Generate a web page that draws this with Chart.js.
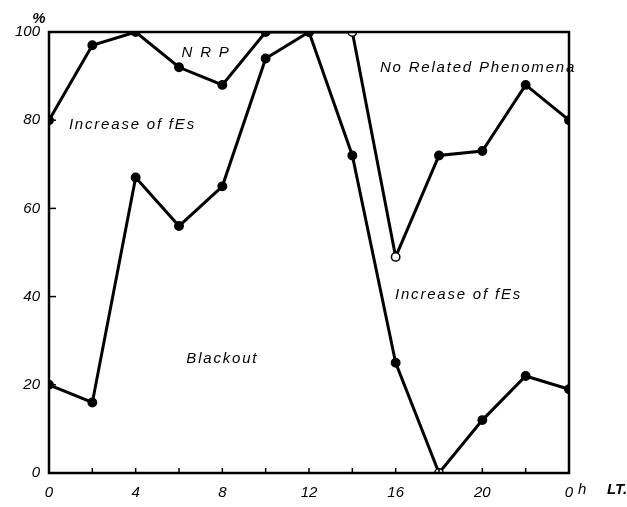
<!DOCTYPE html>
<html>
<head>
<meta charset="utf-8">
<script src="https://cdn.jsdelivr.net/npm/chart.js@4/dist/chart.umd.min.js"></script>
<style>
  html, body { margin: 0; background: #fff; }
</style>
</head>
<body>
<canvas id="chart" width="627" height="507"></canvas>
<script>
// local time (h), upper curve = NRP boundary, lower curve = blackout boundary
const hours = [0, 2, 4, 6, 8, 10, 12, 14, 16, 18, 20, 22, 24];
const nrpLine = [80, 97, 100, 92, 88, 100, 100, 100, 49, 72, 73, 88, 80];
const blackoutLine = [20, 16, 67, 56, 65, 94, 100, 72, 25, 0, 12, 22, 19];
const openNrp = [14, 16];
const openBlackout = [18];
const hourLabels = ['0', '4', '8', '12', '16', '20', '0'];
const regionNames = ['N R P', 'Increase of fEs', 'Blackout', 'No Related Phenomena', 'Increase of fEs'];
const regionAt = [[7.25, 95.2], [3.85, 78.9], [8.0, 26], [19.8, 91.8], [18.9, 40.4]];

const FONT = '"Liberation Sans", Arial, sans-serif';

const pts = vals => hours.map((h, i) => ({ x: h, y: vals[i] }));
const fills = open => hours.map(h => open.includes(h) ? '#fff' : '#000');

const frame = {
    id: 'frame',
    afterDatasetsDraw(chart) {
        const { ctx, chartArea: a, scales: { x, y } } = chart;
        ctx.save();
        ctx.strokeStyle = '#000';
        ctx.lineWidth = 2.5;
        ctx.strokeRect(a.left, a.top, a.right - a.left, a.bottom - a.top);
        // little inward ticks
        ctx.lineWidth = 1.5;
        hours.slice(1, -1).forEach(h => {
            const px = x.getPixelForValue(h);
            ctx.beginPath(); ctx.moveTo(px, a.bottom); ctx.lineTo(px, a.bottom - 5); ctx.stroke();
        });
        [20, 40, 60, 80].forEach(v => {
            const py = y.getPixelForValue(v);
            ctx.beginPath(); ctx.moveTo(a.left, py); ctx.lineTo(a.left + 7, py); ctx.stroke();
        });
        // region names
        ctx.fillStyle = '#000';
        ctx.font = 'italic 15px ' + FONT;
        ctx.letterSpacing = '1.8px';
        ctx.textAlign = 'center';
        ctx.textBaseline = 'middle';
        regionNames.forEach((t, i) => {
            ctx.fillText(t, x.getPixelForValue(regionAt[i][0]), y.getPixelForValue(regionAt[i][1]));
        });
        // axis units
        ctx.letterSpacing = '0px';
        ctx.font = 'italic bold 15px ' + FONT;
        ctx.fillText('%', a.left - 10, a.top - 13);
        ctx.font = 'italic 15px ' + FONT;
        ctx.textAlign = 'left';
        ctx.fillText('h', x.getPixelForValue(24) + 9, a.bottom + 17);
        ctx.font = 'italic bold 15px ' + FONT;
        ctx.fillText('LT.', x.getPixelForValue(24) + 38, a.bottom + 17);
        ctx.restore();
    }
};

new Chart(document.getElementById('chart'), {
    type: 'line',
    data: {
        datasets: [{
            data: pts(nrpLine),
            borderColor: '#000',
            borderWidth: 3,
            pointRadius: 4.2,
            pointBorderWidth: 1.5,
            pointBorderColor: '#000',
            pointBackgroundColor: fills(openNrp),
            clip: 1
        }, {
            data: pts(blackoutLine),
            borderColor: '#000',
            borderWidth: 3,
            pointRadius: 4.2,
            pointBorderWidth: 1.5,
            pointBorderColor: '#000',
            pointBackgroundColor: fills(openBlackout),
            clip: 1
        }]
    },
    options: {
        responsive: false,
        animation: false,
        layout: { padding: { top: 32, right: 58, left: 0, bottom: 0 } },
        plugins: { legend: { display: false }, tooltip: { enabled: false } },
        scales: {
            x: {
                type: 'linear',
                min: 0, max: 24,
                grid: { display: false, drawTicks: false },
                border: { display: false },
                afterFit: s => { s.height = 34; },
                ticks: {
                    stepSize: 2,
                    autoSkip: false,
                    maxRotation: 0,
                    padding: 11,
                    color: '#000',
                    font: { family: FONT, size: 15, style: 'italic' },
                    callback: v => v % 4 === 0 ? hourLabels[v / 4] : ''
                }
            },
            y: {
                min: 0, max: 100,
                grid: { display: false, drawTicks: false },
                border: { display: false },
                afterFit: s => { s.width = 49; },
                ticks: {
                    stepSize: 20,
                    padding: 9,
                    color: '#000',
                    font: { family: FONT, size: 15, style: 'italic' }
                }
            }
        }
    },
    plugins: [frame]
});
</script>
</body>
</html>
